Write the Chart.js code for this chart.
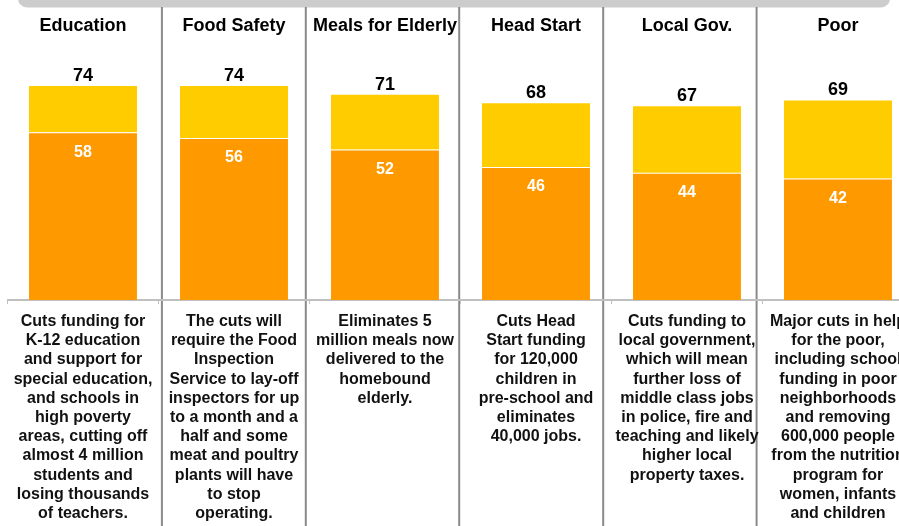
<!DOCTYPE html>
<html>
<head>
<meta charset="utf-8">
<script src="https://cdn.jsdelivr.net/npm/chart.js@4.4.1/dist/chart.umd.min.js"></script>
<style>
  html, body { margin: 0; padding: 0; background: #ffffff; overflow: hidden; width: 899px; height: 526px; }
  canvas { display: block; }
</style>
</head>
<body>
<canvas id="c" width="914" height="526"></canvas>
<script>
// ---- Data ----
const categories = ['Education', 'Food Safety', 'Meals for Elderly', 'Head Start', 'Local Gov.', 'Poor'];
const lowerValues = [58, 56, 52, 46, 44, 42];
const totalValues = [74, 74, 71, 68, 67, 69];
const descriptions = [
  ['Cuts funding for', 'K-12 education', 'and support for', 'special education,', 'and schools in', 'high poverty', 'areas, cutting off', 'almost 4 million', 'students and', 'losing thousands', 'of teachers.'],
  ['The cuts will', 'require the Food', 'Inspection', 'Service to lay-off', 'inspectors for up', 'to a month and a', 'half and some', 'meat and poultry', 'plants will have', 'to stop', 'operating.'],
  ['Eliminates 5', 'million meals now', 'delivered to the', 'homebound', 'elderly.'],
  ['Cuts Head', 'Start funding', 'for 120,000', 'children in', 'pre-school and', 'eliminates', '40,000 jobs.'],
  ['Cuts funding to', 'local government,', 'which will mean', 'further loss of', 'middle class jobs', 'in police, fire and', 'teaching and likely', 'higher local', 'property taxes.'],
  ['Major cuts in help', 'for the poor,', 'including school', 'funding in poor', 'neighborhoods', 'and removing', '600,000 people', 'from the nutrition', 'program for', 'women, infants', 'and children']
];
const upperValues = totalValues.map((t, i) => t - lowerValues[i]);

const FONT = "'Liberation Sans', Arial, sans-serif";
const ORANGE = '#FF9900';
const YELLOW = '#FFCC00';

const overlay = {
  id: 'overlay',
  beforeDraw(chart) {
    const ctx = chart.ctx;
    const xs = chart.scales.x;
    ctx.save();
    // top grey band
    ctx.fillStyle = '#cccccc';
    ctx.beginPath();
    ctx.roundRect(18, -12, 872, 19.5, 9);
    ctx.fill();
    // column dividers
    const tweak = [3.4, -3.7, -1.3, -8.3, -5.9];
    ctx.strokeStyle = '#8a8a8a';
    ctx.lineWidth = 2;
    for (let i = 0; i < categories.length - 1; i++) {
      const b = (xs.getPixelForValue(i) + xs.getPixelForValue(i + 1)) / 2 + tweak[i];
      ctx.beginPath();
      ctx.moveTo(b, 7);
      ctx.lineTo(b, chart.height);
      ctx.stroke();
    }
    ctx.restore();
  },
  afterDatasetsDraw(chart) {
    const ctx = chart.ctx;
    const xs = chart.scales.x;
    const lowerMeta = chart.getDatasetMeta(0);
    const upperMeta = chart.getDatasetMeta(1);
    ctx.save();
    ctx.textAlign = 'center';
    ctx.textBaseline = 'alphabetic';
    // headers
    ctx.fillStyle = '#000';
    ctx.font = 'bold 18px ' + FONT;
    categories.forEach((c, i) => {
      ctx.fillText(c, xs.getPixelForValue(i), 30.5);
    });
    // totals
    upperMeta.data.forEach((bar, i) => {
      ctx.fillText(String(totalValues[i]), bar.x, bar.y - 5);
    });
    // inner values
    ctx.fillStyle = '#fff';
    ctx.font = 'bold 16px ' + FONT;
    lowerMeta.data.forEach((bar, i) => {
      ctx.fillText(String(lowerValues[i]), bar.x, bar.y + 24.4);
    });
    ctx.restore();
  }
};

new Chart(document.getElementById('c'), {
  type: 'bar',
  data: {
    labels: categories,
    datasets: [
      {
        label: 'lower',
        data: lowerValues,
        backgroundColor: ORANGE,
        borderColor: '#ffffff',
        borderWidth: { top: 1, left: 0, right: 0, bottom: 0 },
        borderSkipped: false,
        categoryPercentage: 1,
        barPercentage: 0.715
      },
      {
        label: 'upper',
        data: upperValues,
        backgroundColor: YELLOW,
        borderWidth: 0,
        categoryPercentage: 1,
        barPercentage: 0.715
      }
    ]
  },
  options: {
    responsive: false,
    animation: false,
    layout: { padding: { left: 7.5, top: 10.8, right: 0, bottom: 0 } },
    plugins: { legend: { display: false }, tooltip: { enabled: false }, title: { display: false } },
    scales: {
      x: {
        stacked: true,
        offset: true,
        grid: { display: true, drawOnChartArea: false, drawTicks: true, tickLength: 4, color: '#c0c0c0', offset: true, lineWidth: 1 },
        border: { display: true, color: '#c0c0c0', width: 2 },
        ticks: {
          autoSkip: false,
          maxRotation: 0,
          minRotation: 0,
          padding: 8,
          color: '#111',
          font: { family: FONT, size: 16, weight: 'bold', lineHeight: 1.2 },
          callback: (v, i) => descriptions[i]
        },
        afterFit: s => { s.height = 226; }
      },
      y: {
        stacked: true,
        display: false,
        min: 0,
        max: 100
      }
    }
  },
  plugins: [overlay]
});
</script>
</body>
</html>
